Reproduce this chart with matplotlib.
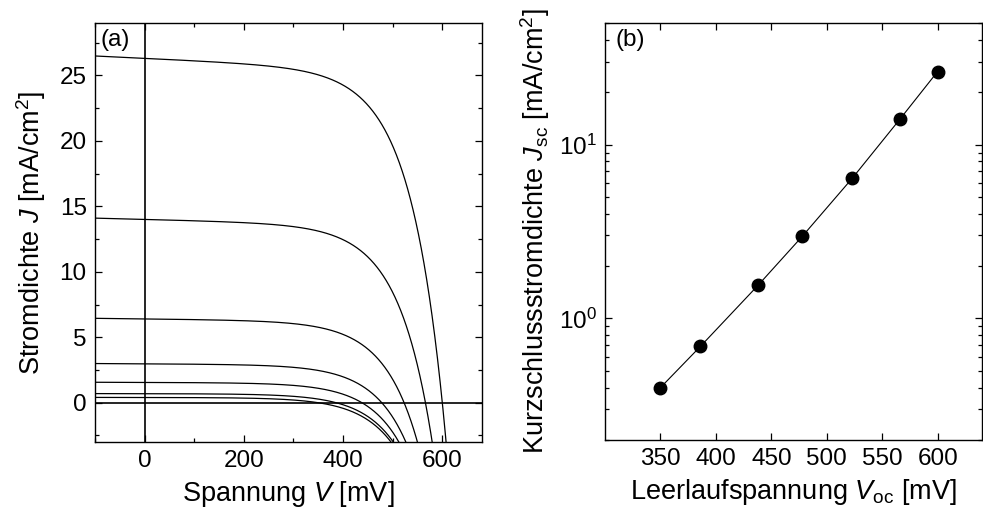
import numpy as np
import matplotlib
matplotlib.use("Agg")
import matplotlib.pyplot as plt
from matplotlib.ticker import MultipleLocator, LogLocator, NullFormatter

plt.rcParams['font.family'] = ['Liberation Sans', 'DejaVu Sans']
plt.rcParams['mathtext.fontset'] = 'custom'
plt.rcParams['mathtext.rm'] = 'Liberation Sans'
plt.rcParams['mathtext.it'] = 'Liberation Sans:italic'
plt.rcParams['mathtext.default'] = 'regular'

# Short-circuit current density and open-circuit voltage for each illumination level
jsc = [26.3, 14.0, 6.4, 2.97, 1.55, 0.69, 0.40]          # mA/cm^2
voc = [600.0, 566.0, 523.0, 478.0, 438.0, 386.0, 350.0]   # mV
# single-diode parameters: slope voltage n*kT/q and relative photo-shunt loss
n_vt = 68.0      # mV
shunt = 6.8e-5   # 1/mV

TICK_FS = 17.5
LABEL_FS = 19.5

fig = plt.figure(figsize=(9.83, 5.26), dpi=100)
ax1 = fig.add_axes([95 / 983, 1 - 442 / 526, 387 / 983, 419 / 526])
ax2 = fig.add_axes([605 / 983, 1 - 440 / 526, 377 / 983, 417 / 526])

# (a) J-V characteristics from the single-diode relation
v = np.linspace(-100, 680, 2000)
for js, vo in zip(jsc, voc):
    j0 = js * (1 - shunt * vo) / (np.exp(vo / n_vt) - 1)
    j = js * (1 - shunt * v) - j0 * (np.exp(v / n_vt) - 1)
    ax1.plot(v, j, color='black', lw=0.9)
ax1.axhline(0, color='black', lw=1.2)
ax1.axvline(0, color='black', lw=1.2)
ax1.set_xlim(-100, 680)
ax1.set_ylim(-3, 29)
ax1.set_xticks([0, 200, 400, 600])
ax1.xaxis.set_minor_locator(MultipleLocator(100))
ax1.set_yticks([0, 5, 10, 15, 20, 25])
ax1.yaxis.set_minor_locator(MultipleLocator(2.5))
ax1.set_xlabel(r'Spannung $\mathit{V}$ [mV]', fontsize=LABEL_FS, labelpad=5)
ax1.set_ylabel(r'Stromdichte $\mathit{J}$ [mA/cm$^{2}$]', fontsize=LABEL_FS, labelpad=8)
ax1.text(0.013, 0.985, '(a)', transform=ax1.transAxes, fontsize=TICK_FS, va='top', ha='left')

# (b) short-circuit current vs open-circuit voltage
ax2.plot(voc, jsc, color='black', lw=0.8, marker='o', ms=9)
ax2.set_yscale('log')
ax2.set_xlim(300, 640)
ax2.set_ylim(0.2, 50)
ax2.set_xticks([350, 400, 450, 500, 550, 600])
ax2.yaxis.set_major_locator(LogLocator(base=10, numticks=10))
ax2.yaxis.set_minor_locator(LogLocator(base=10, subs=np.arange(2, 10), numticks=10))
ax2.yaxis.set_minor_formatter(NullFormatter())
ax2.set_xlabel(r'Leerlaufspannung $\mathit{V}_{\mathrm{oc}}$ [mV]', fontsize=LABEL_FS, labelpad=5)
ax2.set_ylabel(r'Kurzschlussstromdichte $\mathit{J}_{\mathrm{sc}}$ [mA/cm$^{2}$]',
               fontsize=LABEL_FS, labelpad=5)
ax2.text(0.027, 0.985, '(b)', transform=ax2.transAxes, fontsize=TICK_FS, va='top', ha='left')

for ax in (ax1, ax2):
    ax.tick_params(which='both', direction='in', top=True, right=True,
                   labelsize=TICK_FS, width=0.9)
    ax.tick_params(which='major', length=5, pad=6)
    ax.tick_params(which='minor', length=3)
    for s in ax.spines.values():
        s.set_linewidth(1.0)

fig.savefig('out.png', dpi=100)
